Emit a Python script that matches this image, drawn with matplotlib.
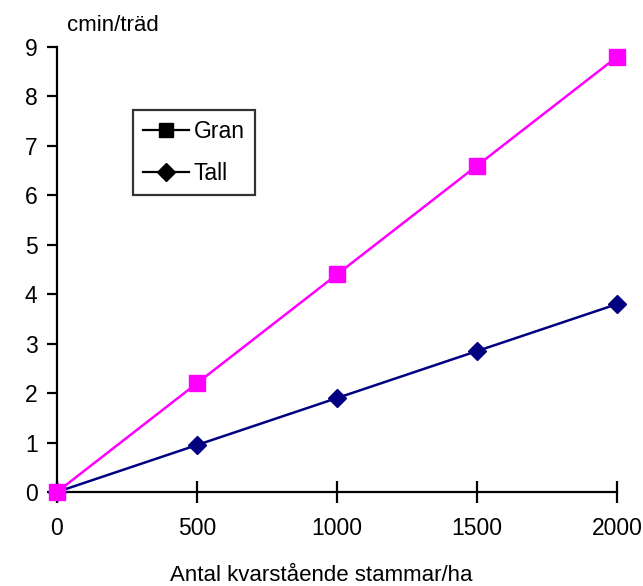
import matplotlib.pyplot as plt
from matplotlib.lines import Line2D

# data
stammar = [0, 500, 1000, 1500, 2000]
gran = [0, 2.2, 4.4, 6.6, 8.8]
tall = [0, 0.95, 1.9, 2.85, 3.8]

plt.rcParams['font.family'] = ['Liberation Sans', 'DejaVu Sans']

fig = plt.figure(figsize=(6.43, 5.86), dpi=100)
ax = fig.add_axes([0.0886, 0.1604, 0.871, 0.7594])

ax.plot(stammar, tall, color='#000080', lw=1.8, marker='D', ms=9, clip_on=False, zorder=3)
ax.plot(stammar, gran, color='#FF00FF', lw=1.8, marker='s', ms=11, clip_on=False, zorder=4)

ax.set_xlim(0, 2000)
ax.set_ylim(0, 9)
ax.set_xticks(stammar)
ax.set_yticks(range(10))
ax.spines['top'].set_visible(False)
ax.spines['right'].set_visible(False)
ax.spines['left'].set_linewidth(1.6)
ax.spines['bottom'].set_linewidth(1.6)
ax.tick_params(axis='x', direction='inout', length=16, width=1.6, labelsize=16.5, pad=10)
ax.tick_params(axis='y', direction='out', length=7, width=1.6, labelsize=16.5, pad=7)

fig.text(0.104, 0.957, 'cmin/träd', fontsize=16, ha='left', va='center')
fig.text(0.5, 0.018, 'Antal kvarstående stammar/ha', fontsize=16, ha='center', va='center')

handles = [
    Line2D([], [], color='black', lw=1.6, marker='s', ms=10),
    Line2D([], [], color='black', lw=1.6, marker='D', ms=9),
]
leg = fig.legend(handles, ['Gran', 'Tall'], loc='upper left',
                 bbox_to_anchor=(0.207, 0.812), fontsize=16.5, frameon=True,
                 fancybox=False, edgecolor='black', handlelength=2.0,
                 handletextpad=0.2, borderpad=0.45, labelspacing=0.8, borderaxespad=0)
leg.get_frame().set_linewidth(1.6)

fig.savefig('out.png', dpi=100)
